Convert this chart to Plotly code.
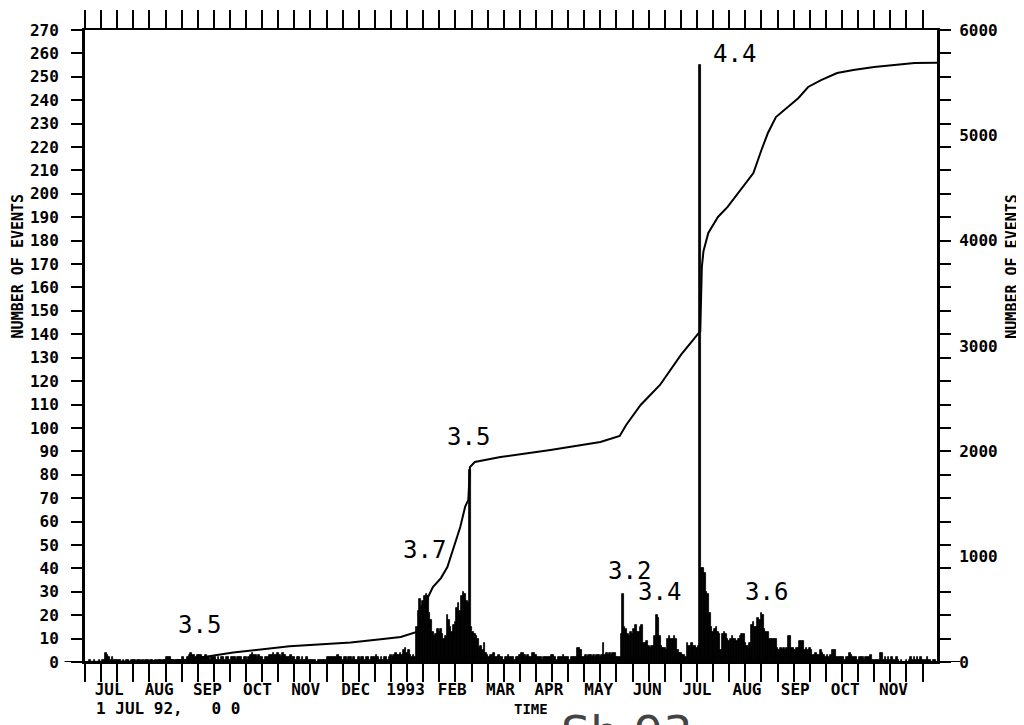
import plotly.graph_objects as go
import pandas as pd

# ---------------- data ----------------
# daily number of events, one list per month (values on the left axis)
jul92 = [0,0,0,1,0,0,1,0,0,1,0,1,1,4,3,2,1,2,1,1,1,1,1,0,1,0,1,1,0,1,1]
aug92 = [1,0,1,1,0,1,0,1,1,0,1,1,0,1,0,1,1,0,1,1,2,2,2,1,1,0,1,1,1,1,2]
sep92 = [1,1,2,3,4,3,3,2,3,3,3,2,2,3,2,2,1,2,2,2,1,2,1,2,2,1,2,2,1,2]
oct92 = [2,2,1,2,2,2,1,2,2,1,2,3,4,3,3,2,3,2,2,1,2,2,2,3,3,4,3,3,4,3,2]
nov92 = [4,3,2,2,2,3,2,2,1,2,2,1,2,1,1,2,1,1,1,1,1,0,1,1,1,1,1,1,2,2]
dec92 = [2,2,2,2,3,2,2,1,2,2,1,2,2,1,2,1,1,2,1,2,2,1,2,2,1,2,2,2,3,2,1]
jan93 = [2,1,2,2,1,2,3,2,3,4,3,3,4,3,5,6,4,5,3,2,3,2,15,22,27,24,26,28,29,28,21]
feb93 = [18,13,11,12,14,13,14,12,10,11,20,18,15,13,16,17,23,25,22,28,30,29,26,25,82,15,13,12]
mar93 = [11,10,6,7,5,8,4,3,2,3,3,4,2,2,3,2,2,1,2,2,3,2,2,2,1,2,2,3,4,4,3]
apr93 = [2,3,2,2,4,4,3,2,2,2,1,2,2,2,2,2,3,3,2,1,2,2,2,3,2,2,2,1,2,2]
may93 = [2,2,6,6,5,2,2,3,2,3,3,2,3,2,3,3,2,3,8,3,4,3,4,3,4,4,2,2,2,12,29]
jun93 = [15,14,12,11,13,12,14,16,13,13,15,16,8,8,9,7,6,7,7,11,20,19,11,7,6,6,5,10,11,10]
jul93 = [10,11,10,5,4,4,3,3,2,8,7,7,8,7,7,6,7,255,40,40,38,30,29,21,15,13,14,15,13,12,5]
aug93 = [12,13,12,10,9,10,11,10,10,9,10,11,12,12,8,7,7,8,16,17,15,15,19,18,21,20,14,13,13,10,10]
sep93 = [10,10,10,6,5,6,5,6,5,6,11,11,6,6,5,6,6,9,9,9,5,6,5,6,5,3,3,4,3,3]
oct93 = [5,4,3,2,3,2,3,5,5,5,2,2,2,2,2,1,2,2,4,3,2,2,2,1,2,2,2,1,2,2,2]
nov93 = [3,1,1,1,1,1,4,4,1,2,1,2,1,2,1,1,2,1,0,1,0,0,1,0,1,2,1,2,1,2]
dec93 = [1,2,1,1,1,2,1,1,0,1,1]

month_starts = ["1992-07-01", "1992-08-01", "1992-09-01", "1992-10-01", "1992-11-01",
                "1992-12-01", "1993-01-01", "1993-02-01", "1993-03-01", "1993-04-01",
                "1993-05-01", "1993-06-01", "1993-07-01", "1993-08-01", "1993-09-01",
                "1993-10-01", "1993-11-01", "1993-12-01"]
month_counts = [jul92, aug92, sep92, oct92, nov92, dec92, jan93, feb93, mar93,
                apr93, may93, jun93, jul93, aug93, sep93, oct93, nov93, dec93]

# cumulative number of events (right axis)
cum_dates = ["1992-07-01", "1992-08-01", "1992-09-01", "1992-10-01", "1992-11-05",
             "1992-12-13", "1993-01-02", "1993-01-13", "1993-01-23", "1993-01-26",
             "1993-01-28", "1993-01-30", "1993-02-02", "1993-02-07", "1993-02-11",
             "1993-02-15", "1993-02-19", "1993-02-22", "1993-02-24", "1993-02-25",
             "1993-02-28", "1993-03-16", "1993-04-16", "1993-05-17", "1993-05-29",
             "1993-06-02", "1993-06-11", "1993-06-23", "1993-07-06", "1993-07-16",
             "1993-07-18", "1993-07-19", "1993-07-20", "1993-07-23", "1993-07-29",
             "1993-08-04", "1993-08-12", "1993-08-20", "1993-08-25", "1993-08-29",
             "1993-09-03", "1993-09-10", "1993-09-17", "1993-09-23", "1993-10-01",
             "1993-10-11", "1993-10-21", "1993-11-03", "1993-11-15", "1993-11-28",
             "1993-12-12"]
cum_values = [0, 5, 20, 90, 150,
              185, 218, 237, 285, 370,
              465, 617, 712, 797, 902,
              1082, 1282, 1472, 1540, 1850,
              1899, 1946, 2013, 2089, 2146,
              2250, 2440, 2630, 2915, 3104,
              3140, 3750, 3900, 4073, 4225,
              4320, 4481, 4642, 4861, 5022,
              5174, 5269, 5355, 5459, 5525,
              5592, 5620, 5649, 5668, 5687,
              5690]

# month labels (placed mid-month)
month_label_dates = ["1992-07-16", "1992-08-16", "1992-09-15", "1992-10-16", "1992-11-15",
                     "1992-12-16", "1993-01-16", "1993-02-14", "1993-03-16", "1993-04-15",
                     "1993-05-16", "1993-06-15", "1993-07-16", "1993-08-16", "1993-09-15",
                     "1993-10-16", "1993-11-15"]
month_labels = ["JUL", "AUG", "SEP", "OCT", "NOV", "DEC", "1993", "FEB", "MAR", "APR",
                "MAY", "JUN", "JUL", "AUG", "SEP", "OCT", "NOV"]

left_ticks = list(range(0, 271, 10))
right_ticks = [0, 1000, 2000, 3000, 4000, 5000, 6000]

# magnitudes of the largest events
mag_texts = ["3.5", "3.7", "3.5", "3.2", "3.4", "4.4", "3.6"]
mag_dates = ["1992-09-10", "1993-01-28", "1993-02-24", "1993-06-04", "1993-06-23",
             "1993-08-08", "1993-08-28"]
mag_levels = [15.8, 47.8, 96, 38.9, 29.9, 259.7, 29.9]

# ---------------- build ----------------
dates, counts = [], []
for ms, vals in zip(month_starts, month_counts):
    dates.extend(pd.date_range(ms, periods=len(vals), freq="D"))
    counts.extend(vals)

BLOCK = "DejaVu Sans Mono"
fig = go.Figure()
fig.add_trace(go.Bar(x=dates, y=counts, width=86400000,
                     marker=dict(color="black", line=dict(width=0.8, color="black")),
                     yaxis="y", showlegend=False))
fig.add_trace(go.Scatter(x=cum_dates, y=cum_values, mode="lines", yaxis="y2",
                         line=dict(color="black", width=2), showlegend=False))

for t, d, v in zip(mag_texts, mag_dates, mag_levels):
    fig.add_annotation(x=d, y=v, xref="x", yref="y", text=t, showarrow=False,
                       xanchor="center", yanchor="middle",
                       font=dict(family=BLOCK, size=24, color="black"))

fig.add_annotation(xref="paper", yref="paper", x=-0.079, y=0.627, text="NUMBER OF EVENTS",
                   textangle=-90, showarrow=False, xanchor="center", yanchor="middle",
                   font=dict(family=BLOCK, size=15, color="black", weight="bold"))
fig.add_annotation(xref="paper", yref="paper", x=1.088, y=0.627, text="NUMBER OF EVENTS",
                   textangle=-90, showarrow=False, xanchor="center", yanchor="middle",
                   font=dict(family=BLOCK, size=15, color="black", weight="bold"))
fig.add_annotation(xref="paper", yref="paper", x=0.01, y=-0.074, xanchor="left",
                   yanchor="middle", text="1 JUL 92,   0 0", showarrow=False,
                   font=dict(family=BLOCK, size=16, color="black", weight="bold"))
fig.add_annotation(xref="paper", yref="paper", x=0.523, y=-0.074, text="TIME",
                   xanchor="center", yanchor="middle", showarrow=False,
                   font=dict(family=BLOCK, size=14, color="black", weight="bold"))
# partly cut caption at the bottom edge of the scan
fig.add_annotation(xref="paper", yref="paper", x=0.636, y=-0.113, text="Sh 93",
                   xanchor="center", yanchor="middle", showarrow=False,
                   font=dict(family="DejaVu Sans", size=46, color="#444444"))

# zero line extending beyond both axes
fig.add_shape(type="line", xref="paper", yref="y", x0=-0.024, x1=1.027, y0=0, y1=0,
              line=dict(color="black", width=2))

# the page body adds an 8 px offset; the figure is sized so it fills the window
fig.update_layout(
    width=1016, height=717,
    margin=dict(l=77, r=87, t=22, b=63),
    paper_bgcolor="white", plot_bgcolor="white",
    bargap=0,
    xaxis=dict(type="date", range=["1992-07-01", "1993-12-12"], automargin=False,
               tickvals=month_label_dates, ticktext=month_labels,
               ticks="", ticklabelstandoff=12,
               tickfont=dict(family=BLOCK, size=16, color="black", weight="bold"),
               showline=True, linewidth=2, linecolor="black", mirror="ticks",
               showgrid=False, zeroline=False,
               minor=dict(dtick=864000000, tick0="1992-07-01", ticks="outside",
                          ticklen=18, tickwidth=2, tickcolor="black", showgrid=False)),
    yaxis=dict(range=[0, 270], tickvals=left_ticks, ticks="outside", ticklen=11,
               tickwidth=2, tickcolor="black", ticklabelstandoff=9, automargin=False,
               tickfont=dict(family=BLOCK, size=16, color="black", weight="bold"),
               showline=True, linewidth=3, linecolor="black", mirror="ticks",
               showgrid=False, zeroline=False),
    yaxis2=dict(range=[0, 6000], overlaying="y", side="right", tickvals=right_ticks,
                ticks="", ticklabelstandoff=17, automargin=False,
                tickfont=dict(family=BLOCK, size=16, color="black", weight="bold"),
                showline=True, linewidth=2, linecolor="black",
                showgrid=False, zeroline=False),
)

fig.write_html("out.html")
